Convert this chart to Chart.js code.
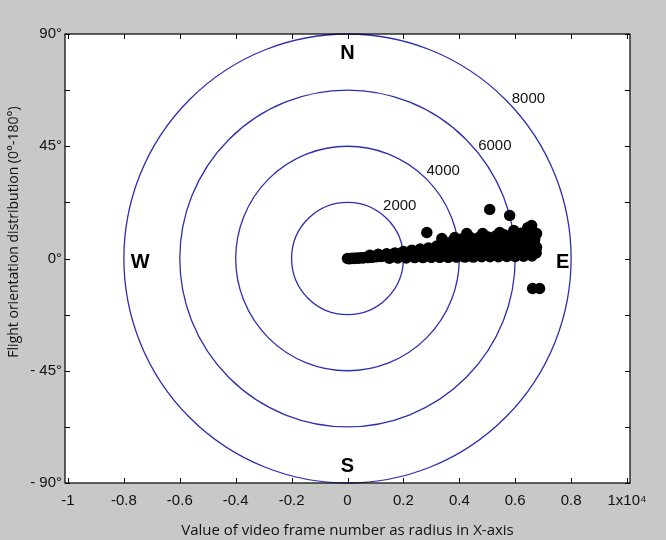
<!DOCTYPE html>
<html lang="en">
<head>
  <meta charset="UTF-8">
  <title>Flight orientation distribution</title>
  <script src="https://cdn.jsdelivr.net/npm/chart.js"></script>
  <style>
    body { margin: 0; background: #c8c8c8; }
    canvas { display: block; }
  </style>
</head>
<body>
  <canvas id="polarChart" width="666" height="540"></canvas>
  <script>
    // axis ticks (x is in frame numbers, labelled in units of 10^4)
    const xTickValues = [-10000, -8000, -6000, -4000, -2000, 0, 2000, 4000, 6000, 8000, 10000];
    const xTickLabels = ['-1', '-0.8', '-0.6', '-0.4', '-0.2', '0', '0.2', '0.4', '0.6', '0.8', '1x10⁴'];
    const yTickValues = [-8000, -6000, -4000, -2000, 0, 2000, 4000, 6000, 8000];
    const yTickLabels = ['- 90°', '', '- 45°', '', '0°', '', '45°', '', '90°'];

    // range rings
    const ringRadii = [2000, 4000, 6000, 8000];
    const ringLabels = ['2000', '4000', '6000', '8000'];
    const compassLabels = ['N', 'S', 'W', 'E'];

    // points, [x, y]
    const bandCore = [
      [0, 0], [60, -10], [120, 0], [180, 10], [250, 0], [320, 20], [400, 10], [480, 30], [560, 20], [640, 40],
      [720, 30], [800, 60], [880, 40], [960, 70], [1040, 60], [1120, 90], [1200, 70], [1280, 100], [1360, 90],
      [1440, 120], [1520, 100], [1600, 140], [1700, 120], [1800, 150], [1900, 130], [2000, 170], [2100, 150],
      [2200, 190], [2300, 170], [2400, 210], [2500, 190], [2600, 230], [2700, 200], [2800, 250], [2900, 220],
      [3000, 260], [3100, 240], [3200, 280], [3300, 250], [3400, 300], [3500, 270], [3600, 310], [3700, 280],
      [3800, 320], [3900, 300], [4000, 340], [4100, 310], [4200, 350], [4300, 330], [4400, 360], [4500, 340],
      [4600, 380], [4700, 350], [4800, 390], [4900, 360], [5000, 400], [5100, 370], [5200, 410], [5300, 380],
      [5400, 420], [5500, 390], [5600, 430], [5700, 400], [5800, 440], [5900, 410], [6000, 450], [6100, 420],
      [6200, 460], [6300, 430], [6400, 470], [6500, 450], [6600, 480]
    ];
    const bandUpper = [
      [800, 120], [1100, 150], [1400, 170], [1700, 200], [2000, 250], [2300, 300], [2600, 340], [2900, 380],
      [3200, 450], [3374, 714], [3600, 560], [3838, 750], [4000, 620], [4266, 892], [4500, 680], [4837, 892],
      [5100, 720], [5444, 928], [5600, 760], [5801, 1535], [5950, 1000], [6100, 820], [6300, 900], [6450, 1100],
      [6587, 1178], [6650, 950], [6765, 892], [6700, 700], [6765, 393]
    ];
    const bandLower = [
      [1500, 10], [1800, 20], [2100, 20], [2400, 30], [2700, 30], [3000, 40], [3300, 40], [3600, 40],
      [3900, 50], [4200, 50], [4500, 50], [4800, 60], [5100, 60], [5400, 60], [5700, 70], [6000, 70],
      [6300, 80], [6600, 90], [6750, 200],
      [3150, 150], [3450, 160], [3750, 170], [4050, 180], [4350, 180], [4650, 190], [4950, 200], [5250, 200],
      [5550, 210], [5850, 220], [6150, 230], [6450, 240]
    ];
    const bandMiddle = [
      [2500, 120], [3000, 180], [3500, 200], [3500, 400], [4000, 250], [4000, 480], [4500, 250], [4500, 520],
      [5000, 280], [5000, 560], [5500, 300], [5500, 600], [6000, 320], [6000, 650], [6300, 600], [6500, 750],
      [6600, 600], [6700, 500],
      [3000, 300], [3200, 350], [3400, 400], [3600, 450], [3800, 500], [4000, 450], [4200, 500], [4400, 550],
      [4600, 500], [4800, 550], [5000, 600], [5200, 550], [5400, 650], [5600, 600], [5800, 650], [6000, 700],
      [6200, 650], [6400, 750], [6600, 700],
      [3800, 650], [4100, 700], [4400, 750], [4700, 750], [5000, 780], [5300, 800], [5600, 850], [5900, 850],
      [6200, 900], [6400, 950], [6550, 1000],
      [1600, 60], [1900, 80], [2200, 100], [2500, 250], [2800, 300], [2600, 100], [2900, 130]
    ];
    const outliers = [[2838, 928], [5087, 1749], [6622, -1071], [6872, -1071]];

    const allPoints = [...bandCore, ...bandUpper, ...bandLower, ...bandMiddle, ...outliers]
      .map(p => ({ x: p[0], y: p[1] }));

    const tickFont = { family: 'Liberation Sans, Arial, sans-serif', size: 15 };
    const titleFont = { family: 'Open Sans, sans-serif', size: 15 };

    const polarFrame = {
      id: 'polarFrame',
      beforeDraw(chart) {
        const { ctx, chartArea: a } = chart;
        ctx.save();
        ctx.fillStyle = '#ffffff';
        ctx.fillRect(a.left, a.top, a.right - a.left, a.bottom - a.top);
        ctx.restore();
      },
      beforeDatasetsDraw(chart) {
        const { ctx, scales: { x, y } } = chart;
        const cx = x.getPixelForValue(0), cy = y.getPixelForValue(0);
        const angles = [45, 42.5, 37.5, 41.5];
        ctx.save();
        ctx.strokeStyle = '#2e2eb0';
        ctx.lineWidth = 1.3;
        ringRadii.forEach(r => {
          const rx = x.getPixelForValue(r) - cx;
          const ry = cy - y.getPixelForValue(r);
          ctx.beginPath();
          ctx.ellipse(cx, cy, rx, ry, 0, 0, Math.PI * 2);
          ctx.stroke();
        });
        ctx.fillStyle = '#111';
        ctx.font = '15px Liberation Sans, Arial, sans-serif';
        ctx.textAlign = 'center';
        ctx.textBaseline = 'middle';
        ringRadii.forEach((r, i) => {
          const d = x.getPixelForValue(r) - cx + 18;
          const t = angles[i] * Math.PI / 180;
          ctx.fillText(ringLabels[i], cx + d * Math.cos(t), cy - d * Math.sin(t));
        });
        ctx.restore();
      },
      afterDatasetsDraw(chart) {
        const { ctx, chartArea: a, scales: { x, y } } = chart;
        ctx.save();
        // compass letters
        const spots = { N: [0, 7300], S: [0, -7420], W: [-7420, -150], E: [7700, -150] };
        ctx.fillStyle = '#000';
        ctx.font = 'bold 20px Liberation Sans, Arial, sans-serif';
        ctx.textAlign = 'center';
        ctx.textBaseline = 'middle';
        compassLabels.forEach(c => {
          ctx.fillText(c, x.getPixelForValue(spots[c][0]), y.getPixelForValue(spots[c][1]));
        });
        // box and inward ticks
        ctx.strokeStyle = '#000';
        ctx.lineWidth = 1.2;
        ctx.strokeRect(a.left, a.top, a.right - a.left, a.bottom - a.top);
        ctx.lineWidth = 1;
        ctx.beginPath();
        x.ticks.forEach(tk => {
          const px = Math.round(x.getPixelForValue(tk.value)) + 0.5;
          ctx.moveTo(px, a.bottom); ctx.lineTo(px, a.bottom - 5);
          ctx.moveTo(px, a.top); ctx.lineTo(px, a.top + 5);
        });
        y.ticks.forEach(tk => {
          const py = Math.round(y.getPixelForValue(tk.value)) + 0.5;
          ctx.moveTo(a.left, py); ctx.lineTo(a.left + 5, py);
          ctx.moveTo(a.right, py); ctx.lineTo(a.right - 5, py);
        });
        ctx.stroke();
        // y axis title, sits a little above the middle in the original
        ctx.translate(14, 232);
        ctx.rotate(-Math.PI / 2);
        ctx.fillStyle = '#111';
        ctx.font = '14px Open Sans, sans-serif';
        ctx.fillText('Flight orientation distribution (0°-180°)', 0, 0);
        ctx.restore();
      }
    };

    new Chart(document.getElementById('polarChart'), {
      type: 'scatter',
      data: {
        datasets: [{
          data: allPoints,
          backgroundColor: '#000',
          borderWidth: 0,
          pointRadius: 5.7,
          pointHoverRadius: 5.7
        }]
      },
      options: {
        responsive: false,
        animation: false,
        layout: { padding: { top: 34, right: 36, left: 0, bottom: 0 } },
        plugins: { legend: { display: false }, tooltip: { enabled: false } },
        scales: {
          x: {
            type: 'linear',
            min: -10107,
            max: 10107,
            afterBuildTicks: s => { s.ticks = xTickValues.map(v => ({ value: v })); },
            afterFit: s => { s.height = 57; },
            grid: { display: false, drawTicks: false },
            border: { display: false },
            ticks: {
              autoSkip: false, maxRotation: 0, padding: 9, color: '#111', font: tickFont,
              callback: (v, i) => xTickLabels[i]
            },
            title: {
              display: true, text: 'Value of video frame number as radius in X-axis',
              color: '#111', font: titleFont, padding: { top: 0, bottom: 0 }
            }
          },
          y: {
            type: 'linear',
            min: -8000,
            max: 8000,
            afterBuildTicks: s => { s.ticks = yTickValues.map(v => ({ value: v })); },
            afterFit: s => { s.width = 65; },
            grid: { display: false, drawTicks: false },
            border: { display: false },
            ticks: {
              autoSkip: false, padding: 3, color: '#111', font: tickFont,
              callback: (v, i) => yTickLabels[i]
            }
          }
        }
      },
      plugins: [polarFrame]
    });
  </script>
</body>
</html>
